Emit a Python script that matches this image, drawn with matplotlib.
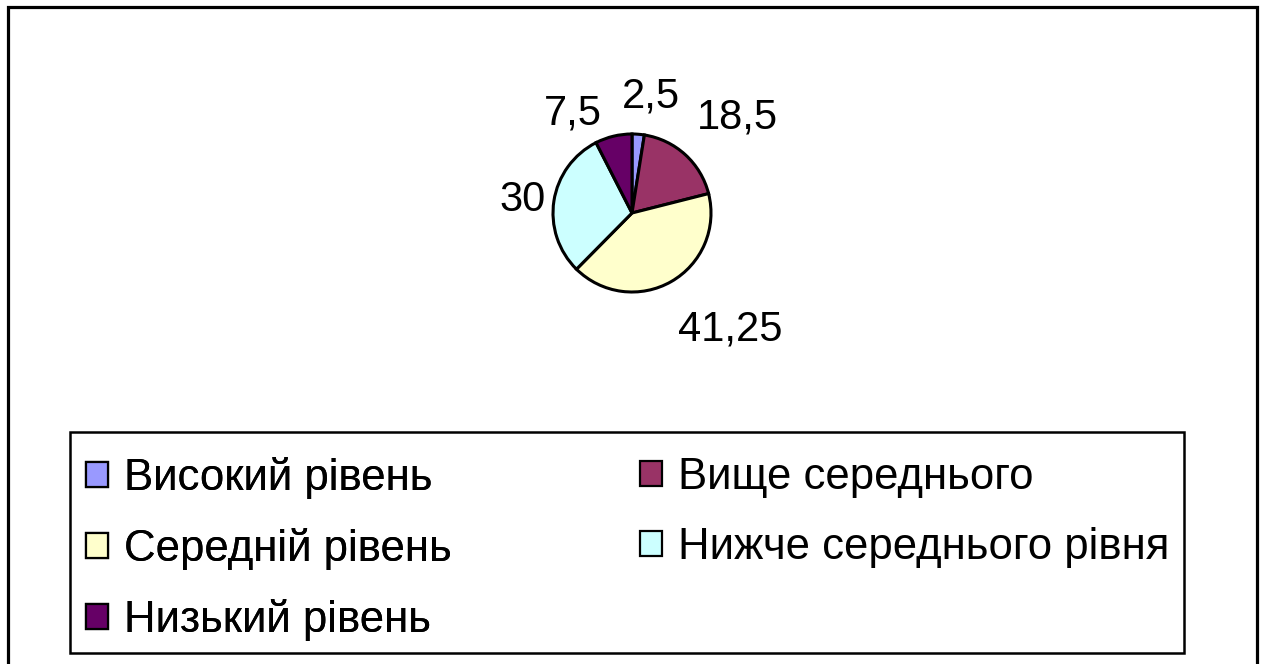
import matplotlib
matplotlib.use("Agg")
import matplotlib.pyplot as plt
from matplotlib.patches import Patch, Rectangle

categories = ["Високий рівень", "Вище середнього", "Середній рівень",
              "Нижче середнього рівня", "Низький рівень"]
values = [2.5, 18.5, 41.25, 30, 7.5]
value_labels = ["2,5", "18,5", "41,25", "30", "7,5"]
colors = ["#9999FF", "#993366", "#FFFFCC", "#CCFFFF", "#660066"]

# label placement (data units relative to pie radius 1)
label_pos = [(0.24, 1.48), (1.33, 1.21), (1.24, -1.48), (-1.39, 0.16), (-0.75, 1.26)]

plt.rcParams['font.family'] = ['Liberation Sans', 'DejaVu Sans']

W, H = 1264, 664
fig = plt.figure(figsize=(W / 100, H / 100), dpi=100)

# outer border
fig.patches.append(Rectangle((8 / W, -0.05), (1257 - 8) / W, (664 - 7) / H + 0.05,
                             transform=fig.transFigure, fill=False,
                             edgecolor="black", linewidth=2.3))

cx, cy, r = 632, 213, 79
ax = fig.add_axes([(cx - r) / W, (H - cy - r) / H, 2 * r / W, 2 * r / H])
wedges, _ = ax.pie(values, colors=colors, startangle=90, counterclock=False,
                   radius=1, wedgeprops=dict(edgecolor="black", linewidth=2.2))
ax.set_xlim(-1, 1)
ax.set_ylim(-1, 1)
ax.set_aspect("equal")
ax.axis("off")

for (x, y), t in zip(label_pos, value_labels):
    ax.text(x, y, t, ha="center", va="center", fontsize=30, clip_on=False)

# legend frame
fig.patches.append(Rectangle((70 / W, (H - 653) / H), (1184 - 70) / W, (653 - 432) / H,
                             transform=fig.transFigure, fill=False,
                             edgecolor="black", linewidth=1.8))

handles = [Patch(facecolor=c, edgecolor="black", linewidth=1.6) for c in colors]
common = dict(loc="upper left", fontsize=31.5, frameon=False,
              handlelength=0.5, handleheight=0.5, handletextpad=0.38,
              labelspacing=0.66, borderaxespad=0, borderpad=0)
col1 = [0, 2, 4]
col2 = [1, 3]
leg1 = fig.legend([handles[i] for i in col1], [categories[i] for i in col1],
                  bbox_to_anchor=(86 / W, (H - 457) / H), **common)
fig.add_artist(leg1)
leg2 = fig.legend([handles[i] for i in col2], [categories[i] for i in col2],
                  bbox_to_anchor=(640 / W, (H - 457) / H), **common)

fig.savefig("out.png", dpi=100)
